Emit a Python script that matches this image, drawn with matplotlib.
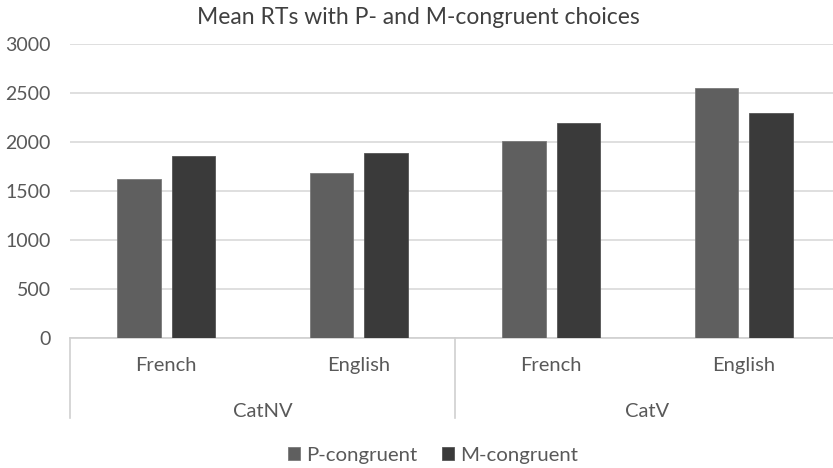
import numpy as np
import matplotlib.pyplot as plt

# data
groups = ["CatNV", "CatV"]
languages = ["French", "English", "French", "English"]
series_names = ["P-congruent", "M-congruent"]
p_congruent = [1625, 1680, 2010, 2550]
m_congruent = [1860, 1890, 2190, 2295]
y_ticks = [0, 500, 1000, 1500, 2000, 2500, 3000]

colors = ["#5f5f5f", "#3a3a3a"]
text_col = "#595959"

plt.rcParams['font.family'] = ['Lato', 'DejaVu Sans']

fig = plt.figure(figsize=(8.33, 4.68), dpi=100)
ax = fig.add_axes([70 / 833, 1 - 338 / 468, 770 / 833, 294 / 468])

x = np.arange(len(languages)) + 0.5
width = 0.225
off = 0.142
ax.bar(x - off, p_congruent, width, color=colors[0], edgecolor="#7a7a7a",
       linewidth=0.6, label=series_names[0], zorder=3)
ax.bar(x + off, m_congruent, width, color=colors[1], edgecolor="#555555",
       linewidth=0.6, label=series_names[1], zorder=3)

ax.set_xlim(0, len(languages))
ax.set_ylim(0, 3000)
ax.set_yticks(y_ticks)
ax.tick_params(axis="y", length=0, labelsize=14, labelcolor=text_col, pad=14)
ax.set_xticks([])
ax.grid(axis="y", color="#d9d9d9", linewidth=1.2, zorder=0)
for s in ["top", "right", "left"]:
    ax.spines[s].set_visible(False)
ax.spines["bottom"].set_color("#d0d0d0")
ax.spines["bottom"].set_linewidth(1.2)

# two-level category axis
tr = ax.get_xaxis_transform()
for xi, lab in zip(x, languages):
    ax.text(xi, -0.095, lab, transform=tr, ha="center", va="center",
            fontsize=14.5, color=text_col)
for gi, g in enumerate(groups):
    ax.text(gi * 2 + 1, -0.25, g, transform=tr, ha="center", va="center",
            fontsize=14.5, color=text_col)
for xs in [0, 2, 4]:
    ax.plot([xs, xs], [0, -0.272], transform=tr, color="#d0d0d0",
            linewidth=1.2, clip_on=False)

fig.text(418 / 833, 1 - 18 / 468, "Mean RTs with P- and M-congruent choices",
         fontsize=16.5, color="#404040", ha="center", va="center")

fig.legend(loc="center", bbox_to_anchor=(433 / 833, 1 - 455 / 468), ncol=2,
           frameon=False, fontsize=14.7, labelcolor=text_col,
           handlelength=0.6, handleheight=0.6, handletextpad=0.3,
           columnspacing=1.2)

fig.savefig("out.png", dpi=100)
